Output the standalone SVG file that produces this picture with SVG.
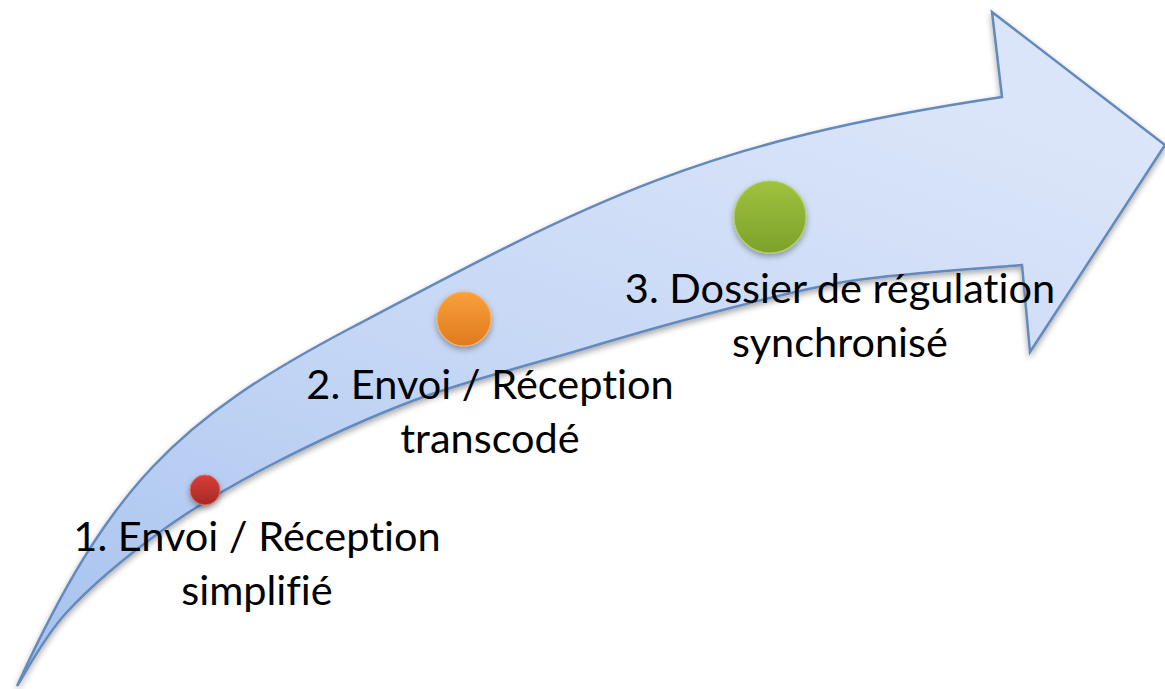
<svg xmlns="http://www.w3.org/2000/svg" width="1165" height="689" viewBox="0 0 1165 689">
<style>
.lbl{font-family:Lato,"Open Sans","Liberation Sans",sans-serif;font-size:41.5px;fill:#000;text-anchor:middle;font-variant-ligatures:none}
</style>
<defs>
<linearGradient id="arrowFill" x1="0" y1="1" x2="0.6" y2="0">
<stop offset="0" stop-color="#a6c1ee"/>
<stop offset="0.5" stop-color="#c4d6f5"/>
<stop offset="1" stop-color="#dbe5f9"/>
</linearGradient>
<linearGradient id="gGreen" x1="0" y1="0" x2="0" y2="1">
<stop offset="0" stop-color="#9fc23f"/>
<stop offset="1" stop-color="#7da12a"/>
</linearGradient>
<linearGradient id="gOrange" x1="0" y1="0" x2="0" y2="1">
<stop offset="0" stop-color="#f9a03c"/>
<stop offset="1" stop-color="#e07a1e"/>
</linearGradient>
<linearGradient id="gRed" x1="0" y1="0" x2="0" y2="1">
<stop offset="0" stop-color="#d73e38"/>
<stop offset="1" stop-color="#a82825"/>
</linearGradient>
<filter id="shadow" x="-20%" y="-20%" width="140%" height="150%">
<feGaussianBlur in="SourceAlpha" stdDeviation="3"/>
<feOffset dy="3" result="b"/>
<feComponentTransfer><feFuncA type="linear" slope="0.35"/></feComponentTransfer>
<feMerge><feMergeNode/><feMergeNode in="SourceGraphic"/></feMerge>
</filter>
</defs>
<g id="arrow" filter="url(#shadow)">
<path d="M17,686 C109,486 177,420 347,330 C597,197.5 702,142 1002,97 L992,12 L1165,145 L1030,352 L1022,265 C993.3,267.7 903.7,272.5 850,281 C796.3,289.5 745,304.5 700,316 C655,327.5 627.5,336 580,350 C532.5,364 467.2,380.5 415,400 C362.8,419.5 309.5,445 267,467 C224.5,489 193.3,507.8 160,532 C126.7,556.2 90.8,586.3 67,612 C43.2,637.7 25.3,673.7 17,686 Z" fill="url(#arrowFill)" stroke="#6489bd" stroke-width="2.5" stroke-linejoin="miter"/>
</g>
<g id="step1">
<circle cx="205" cy="490" r="15" fill="url(#gRed)" stroke="#e06a62" stroke-width="1" filter="url(#shadow)"/>
<text class="lbl" x="257" y="551">1. Envoi / Réception</text>
<text class="lbl" x="257" y="605">simplifié</text>
</g>
<g id="step2">
<circle cx="464" cy="319" r="27" fill="url(#gOrange)" stroke="#f8b060" stroke-width="1.2" filter="url(#shadow)"/>
<text class="lbl" x="490" y="399">2. Envoi / Réception</text>
<text class="lbl" x="490" y="453">transcodé</text>
</g>
<g id="step3">
<circle cx="770" cy="217" r="36" fill="url(#gGreen)" stroke="#b3d05e" stroke-width="1.2" filter="url(#shadow)"/>
<text class="lbl" x="840" y="303">3. Dossier de régulation</text>
<text class="lbl" x="840" y="357">synchronisé</text>
</g>
</svg>
